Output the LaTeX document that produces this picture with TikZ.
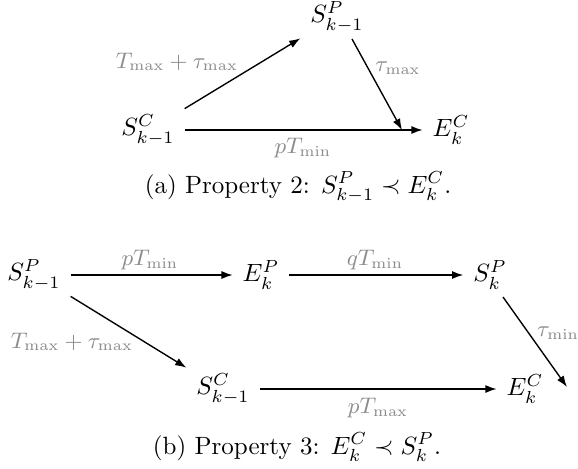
\documentclass[tikz,border=0pt]{standalone}
\usetikzlibrary{arrows.meta,calc}
\tikzset{
  st/.style={inner xsep=4pt, inner ysep=2.5pt, outer sep=0pt},
  lbl/.style={text=black!45, font=\small, inner sep=0pt},
  arr/.style={-{Latex[length=4.5pt,width=3.2pt]}, line width=0.55pt},
  captext/.style={anchor=base, inner sep=0pt},
}
\begin{document}
\begin{tikzpicture}[x=0.4pt,y=-0.4pt]
\useasboundingbox (0,0) rectangle (578,468);
% (a)
\node[st] (asp) at (337,17) {$S^P_{k-1}$};
\node[st] (asc) at (148,130) {$S^C_{k-1}$};
\node[st] (aec) at (451,130) {$E^C_k$};
\coordinate (a2s) at (352,39);
\coordinate (a2e) at (402,130);
\draw[arr] (asc.north east) -- (asp.south west);
\draw[arr] (a2s) -- (a2e);
\draw[arr] (asc) -- (aec);
\node[lbl] (la1) at (177,62) {$T_{\max}+\tau_{\max}$};
\node[lbl] (la2) at (398,68) {$\tau_{\max}$};
\node[lbl] (la3) at (303,148) {$pT_{\min}$};
\node[captext] (capa) at (298,193) {(a) Property 2: $S^P_{k-1} \prec E^C_k$.};
% (b)
\node[st] (bsp1) at (34,275) {$S^P_{k-1}$};
\node[st] (bep) at (261,275) {$E^P_k$};
\node[st] (bspk) at (490,275) {$S^P_k$};
\node[st] (bsc1) at (223,389) {$S^C_{k-1}$};
\node[st] (bec) at (525,389) {$E^C_k$};
\coordinate (b4s) at (503,297);
\coordinate (b4e) at (567,387);
\draw[arr] (bsp1) -- (bep);
\draw[arr] (bep) -- (bspk);
\draw[arr] (bsp1.south east) -- (bsc1.north west);
\draw[arr] (bsc1) -- (bec);
\draw[arr] (b4s) -- (b4e);
\node[lbl] (lb1) at (150,260) {$pT_{\min}$};
\node[lbl] (lb2) at (375,260) {$qT_{\min}$};
\node[lbl] (lb3) at (72,342) {$T_{\max}+\tau_{\max}$};
\node[lbl] (lb4) at (558,333) {$\tau_{\min}$};
\node[lbl] (lb5) at (378,408) {$pT_{\max}$};
\node[captext] (capb) at (297,454) {(b) Property 3: $E^C_k \prec S^P_k$.};
\end{tikzpicture}
\end{document}
